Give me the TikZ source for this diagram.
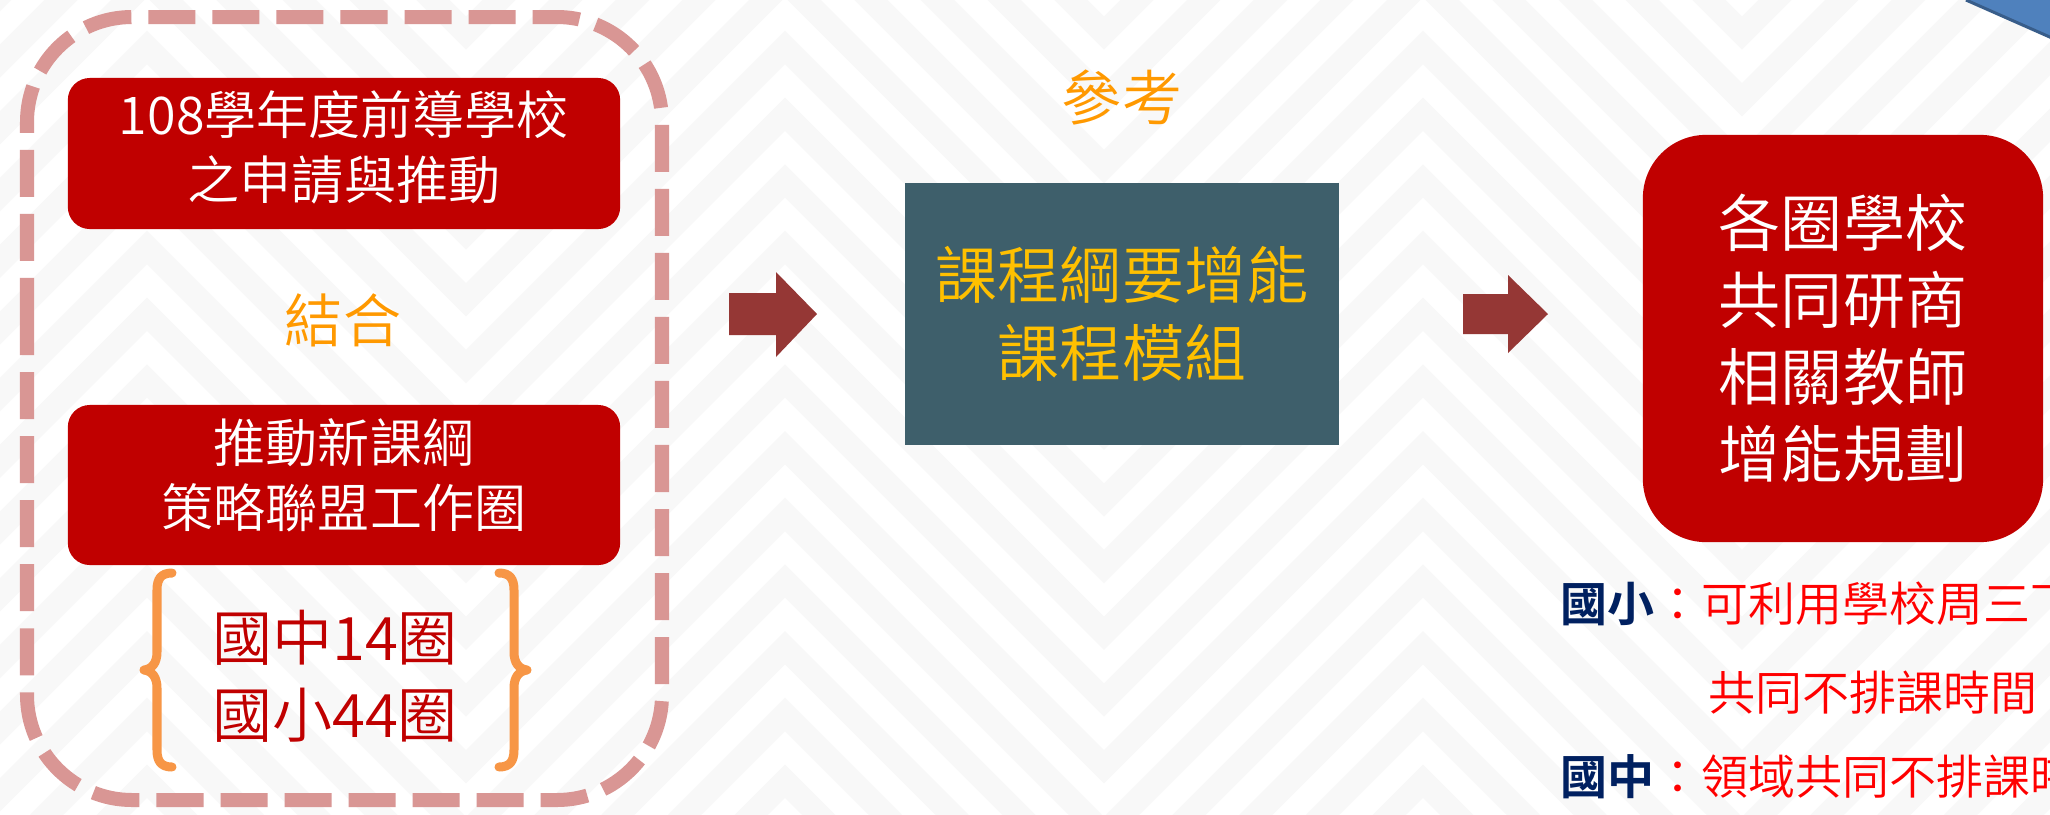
\documentclass[tikz,border=0pt]{standalone}
\usepackage{fontspec}
\IfFontExistsTF{Noto Sans CJK TC DemiLight}
  {\setmainfont{Noto Sans CJK TC DemiLight}[BoldFont={Noto Sans CJK TC Bold}]}
  {\setmainfont{Noto Sans CJK TC}}
\definecolor{stripe}{HTML}{F8F8F8}
\definecolor{boxred}{HTML}{C00000}
\definecolor{dashpink}{HTML}{D99694}
\definecolor{orangetxt}{HTML}{FF9900}
\definecolor{braceorange}{HTML}{F79646}
\definecolor{arrowred}{HTML}{953735}
\definecolor{teal}{HTML}{3E5F6B}
\definecolor{gold}{HTML}{FFC000}
\definecolor{navy}{HTML}{002060}
\definecolor{puretxtred}{HTML}{FF0000}
\definecolor{blueshape}{HTML}{4F81BD}
\definecolor{blueedge}{HTML}{385D8A}
\begin{document}
\begin{tikzpicture}[x=0.01cm,y=-0.01cm,
  txt/.style={inner sep=0pt, outer sep=0pt, align=center},
  redbox/.style={fill=boxred, draw=none, inner sep=0pt},
  fA/.style={font=\fontsize{14.8pt}{18.4pt}\selectfont},
  fB/.style={font=\fontsize{16.5pt}{20pt}\selectfont},
  fC/.style={font=\fontsize{17.07pt}{21.9pt}\selectfont},
  fD/.style={font=\fontsize{17.64pt}{22.2pt}\selectfont},
  fE/.style={font=\fontsize{17.64pt}{21.9pt}\selectfont},
  fF/.style={font=\fontsize{13.37pt}{16pt}\selectfont},
  blockarrow/.style={fill=arrowred, draw=none},
  bracestyle/.style={draw=braceorange, line width=0.09cm, line cap=round, line join=round},
]
\useasboundingbox (0,0) rectangle (2050,814);
\fill[white] (0,0) rectangle (2050,814);
% chevron background
\begin{scope}
\clip (0,0) rectangle (2050,814);
\foreach \k in {-7,...,13} {
  \pgfmathsetmacro\ya{47.5+66.7*\k}
  \pgfmathsetmacro\yb{\ya+319}
  \draw[stripe, line width=0.235cm, line join=miter]
    (-491,\ya) -- (-172,\yb) -- (147,\ya) -- (466,\yb) -- (785,\ya) -- (1104,\yb)
    -- (1423,\ya) -- (1742,\yb) -- (2061,\ya) -- (2380,\yb);
}
\end{scope}

% left dashed group
\draw[dashpink, line width=0.14cm, dash pattern=on 0.47cm off 0.17cm, rounded corners=1.05cm]
  (27,430) -- (27,17) -- (662,17) -- (662,800) -- (27,800) -- cycle;

\node[redbox, minimum width=5.52cm, minimum height=1.51cm, rounded corners=0.22cm] (b1) at (344,153.5) {};
\node[txt, white, fA] (b1t) at (344,147.5) {108學年度前導學校\\之申請與推動};

\node[txt, orangetxt, fB] (jh) at (343,320) {結合};

\node[redbox, minimum width=5.52cm, minimum height=1.6cm, rounded corners=0.22cm] (b2) at (344,485) {};
\node[txt, white, fA] (b2t) at (344,475) {推動新課綱\\策略聯盟工作圈};

\node[txt, boxred, fC] (circ) at (335,676) {國中14圈\\國小44圈};

\draw[bracestyle] (172,573) .. controls (161,573) and (157,579) .. (157,590) -- (157,652)
  .. controls (157,663) and (152,669) .. (144,670) .. controls (152,671) and (157,677) .. (157,688)
  -- (157,750) .. controls (157,761) and (161,767) .. (172,767);
\draw[bracestyle] (499,573) .. controls (510,573) and (514,579) .. (514,590) -- (514,652)
  .. controls (514,663) and (519,669) .. (527,670) .. controls (519,671) and (514,677) .. (514,688)
  -- (514,750) .. controls (514,761) and (510,767) .. (499,767);

% arrow 1
\fill[blockarrow] (729,293) -- (776,293) -- (776,272) -- (817,314) -- (776,357) -- (776,335) -- (729,335) -- cycle;

% middle
\node[txt, orangetxt, fC] (ref) at (1122,97) {參考};
\node[fill=teal, inner sep=0pt, minimum width=4.34cm, minimum height=2.62cm, text=gold, fD, align=center] (mod) at (1122,314) {課程綱要增能\\課程模組};

% arrow 2
\fill[blockarrow] (1463,294) -- (1508,294) -- (1508,275) -- (1548,314) -- (1508,353) -- (1508,334) -- (1463,334) -- cycle;

% right box
\node[redbox, minimum width=4.0cm, minimum height=4.07cm, rounded corners=0.63cm, text=white, fE, align=center] (rb) at (1843,338.5) {各圈學校\\共同研商\\相關教師\\增能規劃};

% bottom-right notes
\begin{scope}
\clip (0,0) rectangle (2050,814);
\node[txt, anchor=west, fF] (n1) at (1560,604) {\textcolor{navy}{\bfseries 國小}\textcolor{puretxtred}{：可利用學校周三下}};
\node[txt, anchor=west, fF, puretxtred] (n2) at (1708,693) {共同不排課時間};
\node[txt, anchor=west, fF] (n3) at (1560,777) {\textcolor{navy}{\bfseries 國中}\textcolor{puretxtred}{：領域共同不排課時}};
% blue shape at the top right
\fill[blueshape] (1966,0) -- (2052,0) -- (2052,38) -- cycle;
\draw[blueedge, line width=0.03cm] (1966,0) -- (2052,38);
\end{scope}
\end{tikzpicture}
\end{document}
